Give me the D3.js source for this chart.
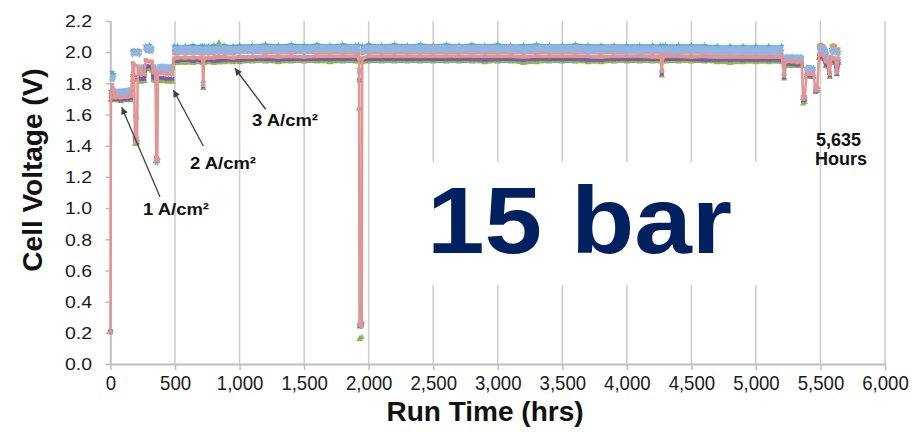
<!DOCTYPE html>
<html><head><meta charset="utf-8">
<script src="https://cdn.jsdelivr.net/npm/d3@7"></script>
<style>
body{margin:0;background:#fff}
svg{display:block}
text{font-family:"Liberation Sans",Arial,Helvetica,sans-serif}
</style>
</head><body>
<svg id="chart" width="924" height="435"></svg>
<script>
// ---------- data ----------
const hours = [
 0,3,12,22,35,80,130,160,172,182,190,205,212,225,238,262,272,300,322,332,348,355,362,368,400,440,480,
 492,520,580,640,700,712,718,726,760,800,836,840,844,880,950,1000,
 1100,1200,1300,1400,1500,1600,1700,1800,1900,1920,1926,1929,1946,1950,2000,
 2100,2200,2300,2400,2500,2600,2700,2800,2900,3000,3100,3200,3300,3400,3500,3600,3700,3800,3900,4000,4100,4200,
 4262,4271,4280,4300,4400,4500,4600,4700,4800,4900,5000,5100,5200,
 5218,5228,5280,5320,5355,5366,5378,5392,5420,5445,5462,5474,5490,5505,5525,5542,5560,5572,5585,5600,5615,5627,5640
];
const cellBlue = [
 0.21,1.73,1.84,1.83,1.74,1.74,1.745,1.75,1.99,2.0,1.44,1.45,2.0,1.99,1.895,1.895,2.02,2.02,2.01,1.895,1.895,1.31,1.30,1.895,1.9,1.895,1.895,
 2.01,2.01,2.015,2.01,2.01,2.01,1.81,2.01,2.015,2.01,2.015,2.015,2.015,2.015,2.01,2.015,
 2.015,2.02,2.015,2.02,2.015,2.02,2.02,2.02,2.02,2.015,1.87,0.26,0.25,2.01,2.02,
 2.02,2.02,2.02,2.02,2.02,2.02,2.02,2.02,2.02,2.02,2.02,2.015,2.02,2.02,2.02,2.02,2.015,2.015,2.02,2.015,2.015,2.015,
 2.015,1.88,2.015,2.015,2.015,2.015,2.015,2.01,2.01,2.01,2.01,2.01,2.01,
 1.86,1.96,1.96,1.955,1.96,1.70,1.71,1.89,1.89,1.885,1.76,1.77,2.02,2.02,2.015,1.96,1.96,1.86,2.01,2.01,2.0,1.88,1.99
];
const cellTeal = [
 0.21,1.75,1.87,1.86,1.75,1.745,1.75,1.755,2.0,2.01,1.45,1.43,2.01,2.0,1.9,1.905,2.04,2.045,2.03,1.9,1.9,1.29,1.31,1.9,1.905,1.9,1.9,
 2.04,2.04,2.04,2.045,2.04,2.04,1.80,2.04,2.04,2.045,2.04,2.04,2.04,2.045,2.04,2.045,
 2.045,2.05,2.045,2.05,2.045,2.05,2.045,2.05,2.045,2.045,1.89,0.25,0.26,2.04,2.05,
 2.045,2.05,2.045,2.05,2.045,2.05,2.045,2.05,2.045,2.05,2.045,2.045,2.05,2.045,2.045,2.05,2.045,2.045,2.045,2.045,2.045,2.045,
 2.045,1.87,2.045,2.045,2.045,2.045,2.045,2.04,2.04,2.04,2.04,2.04,2.04,
 1.85,1.97,1.97,1.97,1.97,1.69,1.70,1.90,1.90,1.90,1.75,1.76,2.03,2.03,2.03,1.97,1.97,1.87,2.02,2.02,2.02,1.87,2.0
];
const cellOrange = [
 0.21,1.74,1.86,1.85,1.75,1.74,1.745,1.75,2.01,2.01,1.59,1.58,2.0,2.01,1.89,1.89,2.03,2.03,2.02,1.89,1.89,1.33,1.32,1.89,1.89,1.89,1.89,
 1.99,1.99,1.99,1.99,1.99,1.99,1.81,1.99,1.99,1.99,1.995,1.995,1.995,1.99,1.99,1.995,
 1.995,1.995,1.99,1.995,1.995,1.995,1.995,1.995,1.995,1.995,1.63,0.25,0.26,1.99,1.995,
 1.995,1.995,1.995,1.995,1.995,1.995,1.995,1.995,1.995,1.995,1.995,1.99,1.995,1.995,1.995,1.995,1.995,1.99,1.995,1.995,1.99,1.99,
 1.99,1.89,1.99,1.99,1.99,1.99,1.99,1.99,1.99,1.99,1.99,1.99,1.99,
 1.86,1.96,1.96,1.96,1.955,1.70,1.72,1.88,1.88,1.88,1.77,1.78,2.045,2.05,2.04,1.96,1.955,1.86,2.04,2.045,2.04,1.88,2.02
];
const cellPink = [
 0.20,1.71,1.79,1.76,1.71,1.71,1.715,1.72,1.93,1.92,1.42,1.43,1.91,1.89,1.86,1.86,1.95,1.94,1.94,1.87,1.87,1.31,1.31,1.865,1.865,1.86,1.86,
 1.96,1.965,1.965,1.965,1.965,1.96,1.79,1.96,1.965,1.965,1.97,1.97,1.97,1.97,1.965,1.97,
 1.97,1.975,1.97,1.975,1.97,1.975,1.975,1.975,1.975,1.975,1.96,0.25,0.24,1.96,1.975,
 1.975,1.975,1.975,1.975,1.975,1.975,1.975,1.975,1.975,1.975,1.975,1.97,1.975,1.975,1.975,1.975,1.975,1.97,1.975,1.975,1.975,1.97,
 1.97,1.88,1.97,1.975,1.975,1.97,1.975,1.97,1.97,1.97,1.97,1.97,1.97,
 1.85,1.94,1.94,1.935,1.94,1.70,1.71,1.86,1.86,1.86,1.76,1.76,1.99,1.985,1.98,1.94,1.94,1.86,1.97,1.96,1.96,1.87,1.96
];
const cellPurple = [
 0.21,1.70,1.75,1.73,1.70,1.695,1.70,1.705,1.85,1.84,1.44,1.42,1.84,1.83,1.83,1.83,1.91,1.91,1.90,1.84,1.835,1.32,1.31,1.835,1.835,1.83,1.83,
 1.945,1.945,1.95,1.945,1.95,1.945,1.78,1.945,1.95,1.945,1.95,1.95,1.95,1.95,1.95,1.95,
 1.955,1.955,1.95,1.955,1.955,1.955,1.955,1.955,1.955,1.955,1.82,0.24,0.25,1.95,1.955,
 1.955,1.955,1.955,1.955,1.955,1.955,1.955,1.955,1.95,1.955,1.955,1.95,1.955,1.955,1.955,1.955,1.95,1.95,1.955,1.955,1.955,1.955,
 1.955,1.86,1.955,1.955,1.955,1.955,1.95,1.95,1.95,1.95,1.95,1.95,1.95,
 1.84,1.925,1.925,1.92,1.925,1.69,1.70,1.85,1.85,1.845,1.75,1.76,1.97,1.97,1.965,1.92,1.92,1.85,1.95,1.945,1.94,1.86,1.94
];
const cellGreen = [
 0.21,1.69,1.73,1.71,1.69,1.685,1.69,1.69,1.82,1.82,1.41,1.42,1.82,1.81,1.81,1.815,1.89,1.89,1.88,1.82,1.815,1.30,1.30,1.815,1.815,1.81,1.81,
 1.93,1.93,1.93,1.93,1.935,1.93,1.77,1.93,1.935,1.93,1.935,2.06,1.935,1.935,1.935,1.935,
 1.94,1.94,1.935,1.94,1.94,1.94,1.935,1.94,1.94,1.94,1.64,0.16,0.17,1.935,1.94,
 1.94,1.94,1.94,1.94,1.94,1.94,1.94,1.94,1.935,1.94,1.94,1.93,1.935,1.94,1.94,1.94,1.935,1.935,1.94,1.94,1.94,1.94,
 1.94,1.85,1.94,1.94,1.94,1.94,1.94,1.935,1.93,1.935,1.935,1.935,1.935,
 1.83,1.91,1.91,1.91,1.91,1.67,1.68,1.84,1.84,1.84,1.745,1.75,1.96,1.96,1.955,1.91,1.905,1.84,1.94,1.93,1.93,1.86,1.93
];
const xTicks = [0,500,1000,1500,2000,2500,3000,3500,4000,4500,5000,5500,6000];
const yTicks = [0,0.2,0.4,0.6,0.8,1.0,1.2,1.4,1.6,1.8,2.0,2.2];
const xTitle = "Run Time (hrs)";
const yTitle = "Cell Voltage (V)";
const pressureLabel = "15 bar";
const endLabel = ["5,635", "Hours"];
const currentLabels = ["1 A/cm²", "2 A/cm²", "3 A/cm²"];

// ---------- chart ----------
[cellBlue,cellTeal,cellOrange,cellPink,cellPurple,cellGreen].forEach((a,i)=>{
  if (a.length !== hours.length) throw new Error("series "+i+" length "+a.length+" vs "+hours.length);
});

const svg = d3.select("#chart");
const x = d3.scaleLinear().domain([0,6000]).range([110.5,885]);
const y = d3.scaleLinear().domain([0,2.2]).range([364,21]);

// vertical gridlines
svg.append("g").selectAll("line").data(xTicks).join("line")
  .attr("x1",d=>x(d)).attr("x2",d=>x(d))
  .attr("y1",y(2.2)).attr("y2",y(0))
  .attr("stroke","#cccccc").attr("stroke-width",1.5);

// white box behind the big label
svg.append("rect")
  .attr("x",x(2430)).attr("y",y(1.296))
  .attr("width",x(5080)-x(2430)).attr("height",y(0.507)-y(1.296))
  .attr("fill","#fff");

// axes
const xAxis = svg.append("g").attr("transform",`translate(0,${y(0)})`)
  .call(d3.axisBottom(x).tickValues(xTicks).tickFormat(d3.format(",")).tickSizeInner(6).tickSizeOuter(0));
xAxis.select(".domain").attr("stroke","#bfbfbf").attr("stroke-width",2);
xAxis.selectAll(".tick line").attr("stroke","#bfbfbf").attr("stroke-width",1.5);
xAxis.selectAll(".tick text")
  .attr("y",26).attr("dy",null)
  .attr("transform","scale(0.93,1)")
  .attr("font-size",20).attr("fill","#1a1a1a")
  .style("font-family","'Liberation Sans',Arial,sans-serif");

const yAxis = svg.append("g").attr("transform",`translate(${x(0)},0)`)
  .call(d3.axisLeft(y).tickValues(yTicks).tickFormat(d3.format(".1f")).tickSizeInner(5).tickSizeOuter(0));
yAxis.select(".domain").attr("stroke","#bfbfbf").attr("stroke-width",1.5);
yAxis.selectAll(".tick line").attr("stroke","#bfbfbf").attr("stroke-width",1.5);
yAxis.selectAll(".tick text")
  .attr("x",-18.5).attr("dy","0.36em")
  .attr("font-size",16).attr("fill","#1a1a1a")
  .attr("textLength",27).attr("lengthAdjust","spacingAndGlyphs")
  .style("font-family","'Liberation Sans',Arial,sans-serif");

// axis titles
svg.append("text").attr("x",485).attr("y",421)
  .attr("text-anchor","middle").attr("font-size",28).attr("font-weight","bold").attr("fill","#111")
  .text(xTitle);
svg.append("text").attr("transform","translate(42,170) rotate(-90)")
  .attr("text-anchor","middle").attr("font-size",28).attr("font-weight","bold").attr("fill","#111")
  .text(yTitle);

// big label
svg.append("text").attr("x",x(2452)).attr("y",y(0.712))
  .attr("font-size",95).attr("font-weight","bold").attr("fill","#002060")
  .attr("textLength",305).attr("lengthAdjust","spacingAndGlyphs")
  .text(pressureLabel);

// series
const series = [
  {values:cellOrange, color:"#F79646", width:2,   sym:d3.symbolCircle,  size:14, rot:0},
  {values:cellTeal,   color:"#4BACC6", width:1.6, sym:d3.symbolStar,    size:14, rot:0},
  {values:cellBlue,   color:"#95B3E0", width:8.5, sym:d3.symbolDiamond, size:22, rot:0},
  {values:cellGreen,  color:"#8DB94F", width:3,   sym:d3.symbolTriangle,size:18, rot:0},
  {values:cellPurple, color:"#7A5FA6", width:3.6, sym:d3.symbolCross,   size:16, rot:45},
  {values:cellPink,   color:"#DF9694", width:3.6, sym:d3.symbolSquare,  size:16, rot:0, full:true}
];
const line = d3.line().x(d=>x(d[0])).y(d=>y(d[1]));
series.forEach(s=>{
  const pts = hours.map((h,i)=>[h,s.values[i]]);
  let segs;
  if (s.full) segs=[pts];
  else {
    segs=[]; let cur=[];
    pts.forEach((p,i)=>{
      if (i>0 && Math.abs(p[1]-pts[i-1][1])>0.08){ segs.push(cur); cur=[]; }
      cur.push(p);
    });
    segs.push(cur);
  }
  const g = svg.append("g");
  g.selectAll("path.l").data(segs.filter(a=>a.length>1)).join("path").attr("class","l")
    .attr("d",line).attr("fill","none").attr("stroke",s.color)
    .attr("stroke-width",s.full ? 2.6 : s.width).attr("stroke-linejoin","round");
  g.selectAll("path.m").data(pts).join("path").attr("class","m")
    .attr("d",d3.symbol().type(s.sym).size(s.size))
    .attr("transform",d=>`translate(${x(d[0])},${y(d[1])}) rotate(${s.rot})`)
    .attr("fill",s.color);
});
// thicker pink band in the steady region drawn on top of pink segments
{
  const pts = hours.map((h,i)=>[h,cellPink[i]]);
  const segs=[]; let cur=[];
  pts.forEach((p,i)=>{
    if (i>0 && Math.abs(p[1]-pts[i-1][1])>0.08){ segs.push(cur); cur=[]; }
    cur.push(p);
  });
  segs.push(cur);
  svg.append("g").selectAll("path").data(segs.filter(a=>a.length>1)).join("path")
    .attr("d",line).attr("fill","none").attr("stroke","#DF9694")
    .attr("stroke-width",3.6).attr("stroke-linejoin","round");
}

// annotations: arrows & labels
const defs = svg.append("defs");
defs.append("marker").attr("id","ah").attr("viewBox","0 0 10 10").attr("refX",10).attr("refY",5)
  .attr("markerWidth",9).attr("markerHeight",7).attr("markerUnits","userSpaceOnUse").attr("orient","auto")
  .append("path").attr("d","M0,0L10,5L0,10Z").attr("fill","#404040");
const arrows = [
  {tail:[383,1.073], tip:[87,1.647],  lab:[252,0.956]},
  {tail:[719,1.398], tip:[487,1.757], lab:[616,1.251]},
  {tail:[1202,1.634],tip:[964,1.897], lab:[1096,1.527]}
];
arrows.forEach((a,i)=>{
  svg.append("line").attr("x1",x(a.tail[0])).attr("y1",y(a.tail[1]))
    .attr("x2",x(a.tip[0])).attr("y2",y(a.tip[1]))
    .attr("stroke","#404040").attr("stroke-width",1.3).attr("marker-end","url(#ah)");
  svg.append("text").attr("x",x(a.lab[0])).attr("y",y(a.lab[1]))
    .attr("font-size",16).attr("font-weight","bold").attr("fill","#111")
    .attr("textLength",66).attr("lengthAdjust","spacingAndGlyphs")
    .text(currentLabels[i]);
});
svg.append("text").attr("x",x(5466)).attr("y",y(1.398))
  .attr("font-size",18).attr("font-weight","bold").attr("fill","#111").text(endLabel[0]);
svg.append("text").attr("x",x(5458)).attr("y",y(1.276))
  .attr("font-size",18).attr("font-weight","bold").attr("fill","#111").text(endLabel[1]);
</script>
</body></html>
